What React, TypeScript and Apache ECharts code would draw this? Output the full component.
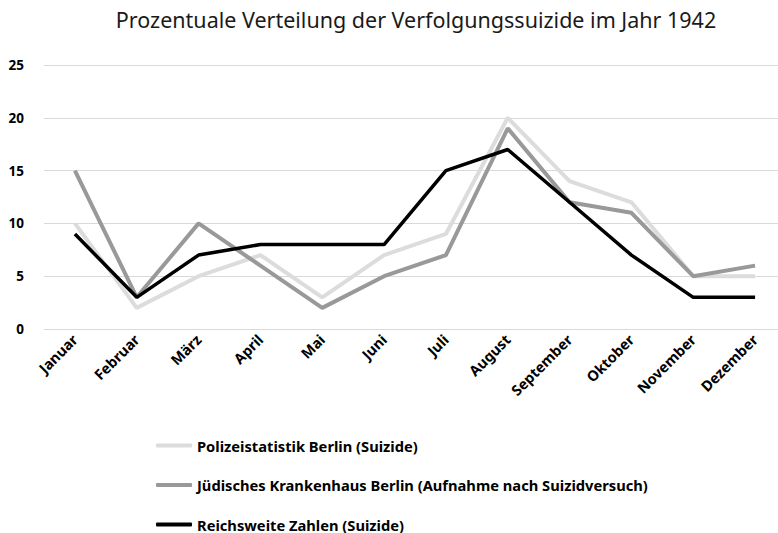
import React, { useEffect, useRef } from "react";
import * as echarts from "echarts";

const months = ["Januar","Februar","März","April","Mai","Juni","Juli","August","September","Oktober","November","Dezember"];
const polizei = [10, 2, 5, 7, 3, 7, 9, 20, 14, 12, 5, 5];
const juedisch = [15, 3, 10, 6, 2, 5, 7, 19, 12, 11, 5, 6];
const reich = [9, 3, 7, 8, 8, 8, 15, 17, 12, 7, 3, 3];
const seriesNames = [
  "Polizeistatistik Berlin (Suizide)",
  "Jüdisches Krankenhaus Berlin (Aufnahme nach Suizidversuch)",
  "Reichsweite Zahlen (Suizide)",
];

export default function App() {
  const ref = useRef<HTMLDivElement>(null);
  useEffect(() => {
    if (!ref.current) return;
    const chart = echarts.init(ref.current, null, { renderer: "svg" });
    const font = "'Noto Sans', 'Open Sans', sans-serif";
    chart.setOption({
      animation: false,
      title: {
        text: "Prozentuale Verteilung der Verfolgungssuizide im Jahr 1942",
        left: 411,
        textAlign: "center",
        top: 3,
        textStyle: { fontFamily: font, fontSize: 21.5, fontWeight: "normal", color: "#1a1a1a" },
      },
      grid: { left: 44, top: 65, width: 742, height: 264, containLabel: false },
      xAxis: {
        type: "category",
        data: months,
        boundaryGap: true,
        axisLine: { show: false },
        axisTick: { show: false },
        axisLabel: {
          rotate: 45,
          margin: 8,
          interval: 0,
          fontFamily: font,
          fontWeight: "bold",
          fontSize: 14.5,
          color: "#000",
        },
      },
      yAxis: {
        type: "value",
        min: 0,
        max: 25,
        interval: 5,
        axisLine: { show: false },
        axisTick: { show: false },
        splitLine: { lineStyle: { color: "#d9d9d9", width: 1 } },
        axisLabel: {
          align: "right",
          margin: 20,
          fontFamily: font,
          fontWeight: "bold",
          fontSize: 13.5,
          color: "#000",
        },
      },
      legend: {
        orient: "vertical",
        left: 151,
        top: 433,
        height: 160,
        itemWidth: 36,
        itemHeight: 4,
        itemGap: 24.5,
        icon: "roundRect",
        textStyle: { fontFamily: font, fontWeight: "bold", fontSize: 14.7, color: "#000", padding: [0, 0, 0, 0] },
        data: seriesNames,
      },
      series: [
        { name: seriesNames[0], type: "line", data: polizei, symbol: "none", lineStyle: { color: "#dcdcdc", width: 4 }, itemStyle: { color: "#dcdcdc" } },
        { name: seriesNames[1], type: "line", data: juedisch, symbol: "none", lineStyle: { color: "#999999", width: 4 }, itemStyle: { color: "#999999" } },
        { name: seriesNames[2], type: "line", data: reich, symbol: "none", lineStyle: { color: "#000000", width: 3.5 }, itemStyle: { color: "#000000" } },
      ],
    });
    return () => chart.dispose();
  }, []);
  return (
    <div style={{ position: "absolute", left: 0, top: 0, width: 778, height: 533, overflow: "hidden" }}>
      <div ref={ref} style={{ position: "absolute", left: 0, top: 0, width: 800, height: 620 }} />
    </div>
  );
}
